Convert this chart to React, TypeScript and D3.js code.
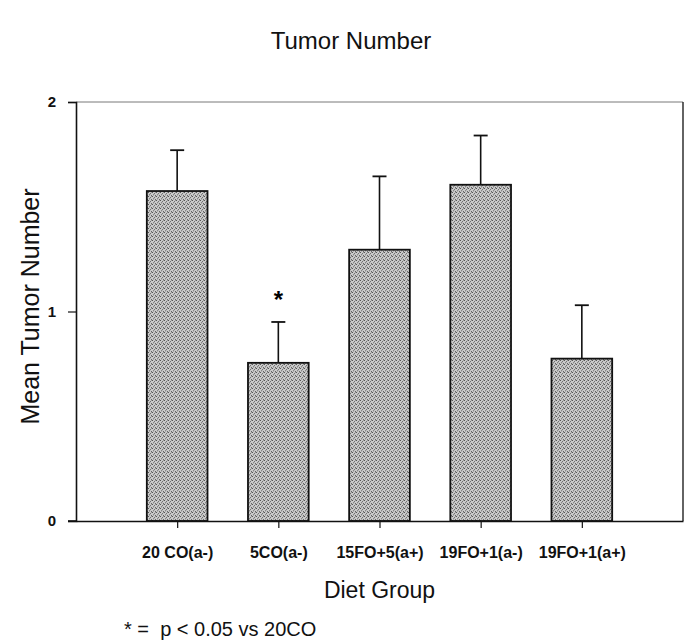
import { useEffect, useRef } from "react";
import * as d3 from "d3";

const groups = ["20 CO(a-)", "5CO(a-)", "15FO+5(a+)", "19FO+1(a-)", "19FO+1(a+)"];
const means = [1.575, 0.755, 1.295, 1.605, 0.775];
const errTops = [1.77, 0.95, 1.645, 1.84, 1.03];
const significant = [false, true, false, false, false];
const yTicks = [0, 1, 2];

export default function App() {
  const ref = useRef<SVGSVGElement>(null);

  useEffect(() => {
    if (!ref.current) return;
    const svg = d3.select(ref.current);
    svg.selectAll("*").remove();

    const font = "'Liberation Sans', Arial, sans-serif";
    const left = 76, right = 683, top = 102, bottom = 521;

    const x = d3.scaleLinear().domain([0, groups.length + 1]).range([left, right]);
    const y = d3.scaleLinear().domain([0, 2]).range([bottom, top]);
    const barW = (x(1) - x(0)) * 0.6;

    // stipple texture for the bars
    const defs = svg.append("defs");
    const pat = defs.append("pattern")
      .attr("id", "stipple")
      .attr("width", 4).attr("height", 4)
      .attr("patternUnits", "userSpaceOnUse");
    pat.append("rect").attr("width", 4).attr("height", 4).attr("fill", "#cacaca");
    const dots = [[0, 0, "#555"], [2, 1, "#707070"], [1, 2, "#858585"], [3, 3, "#666"], [3, 0, "#9a9a9a"], [1, 3, "#aaa"], [2, 2, "#bbb"]];
    dots.forEach(([dx, dy, c]) => {
      pat.append("rect").attr("x", dx).attr("y", dy).attr("width", 1).attr("height", 1).attr("fill", c as string);
    });

    // frame
    svg.append("line").attr("x1", left).attr("x2", right).attr("y1", top).attr("y2", top)
      .attr("stroke", "#555").attr("stroke-width", 0.8);
    svg.append("line").attr("x1", right).attr("x2", right).attr("y1", top).attr("y2", bottom)
      .attr("stroke", "#222").attr("stroke-width", 1.4);

    // error bars
    const g = svg.append("g");
    groups.forEach((name, i) => {
      const cx = x(i + 1);
      g.append("line").attr("x1", cx).attr("x2", cx)
        .attr("y1", y(means[i])).attr("y2", y(errTops[i]))
        .attr("stroke", "#111").attr("stroke-width", 1.6);
      g.append("line").attr("x1", cx - 7).attr("x2", cx + 7)
        .attr("y1", y(errTops[i])).attr("y2", y(errTops[i]))
        .attr("stroke", "#111").attr("stroke-width", 1.8);
    });

    // bars
    g.selectAll("rect.bar")
      .data(means)
      .join("rect")
      .attr("class", "bar")
      .attr("x", (_, i) => x(i + 1) - barW / 2)
      .attr("y", (d) => y(d))
      .attr("width", barW)
      .attr("height", (d) => y(0) - y(d))
      .attr("fill", "url(#stipple)")
      .attr("stroke", "#111")
      .attr("stroke-width", 1.8);

    // significance marks
    g.selectAll("text.sig")
      .data(groups.map((_, i) => i).filter((i) => significant[i]))
      .join("text")
      .attr("class", "sig")
      .attr("x", (i) => x(i + 1))
      .attr("y", (i) => y(errTops[i]) - 14)
      .attr("text-anchor", "middle")
      .attr("font-family", font)
      .attr("font-weight", "bold")
      .attr("font-size", 24)
      .text("*");

    // y axis
    const yAxis = svg.append("g").attr("transform", `translate(${left},0)`)
      .call(d3.axisLeft(y).tickValues(yTicks).tickFormat(d3.format("d")).tickSize(8).tickPadding(12));
    yAxis.select(".domain").attr("stroke", "#111").attr("stroke-width", 1.6);
    yAxis.selectAll(".tick line").attr("stroke", "#111").attr("stroke-width", 1.2);
    yAxis.selectAll("text").attr("font-family", font).attr("font-weight", "bold")
      .attr("font-size", 15).attr("fill", "#111");

    // x axis
    const xAxis = svg.append("g").attr("transform", `translate(0,${bottom})`)
      .call(d3.axisBottom(x).tickValues(groups.map((_, i) => i + 1))
        .tickFormat((d) => groups[(d as number) - 1]).tickSize(7).tickSizeOuter(0).tickPadding(19));
    xAxis.select(".domain").attr("stroke", "#111").attr("stroke-width", 1.6);
    xAxis.selectAll(".tick line").attr("stroke", "#111").attr("stroke-width", 1.2);
    xAxis.selectAll("text").attr("font-family", font).attr("font-weight", "bold")
      .attr("font-size", 16).attr("fill", "#111");
    svg.append("line").attr("x1", left - 8).attr("x2", left).attr("y1", bottom).attr("y2", bottom)
      .attr("stroke", "#111").attr("stroke-width", 1.6);

    // titles
    svg.append("text").attr("x", 351).attr("y", 49).attr("text-anchor", "middle")
      .attr("font-family", font).attr("font-size", 24).attr("fill", "#111").text("Tumor Number");
    svg.append("text").attr("transform", `translate(39,${(top + bottom) / 2 - 5}) rotate(-90)`)
      .attr("text-anchor", "middle").attr("font-family", font).attr("font-size", 25)
      .attr("fill", "#111").text("Mean Tumor Number");
    svg.append("text").attr("x", (x(1) + x(groups.length)) / 2).attr("y", 598).attr("text-anchor", "middle")
      .attr("font-family", font).attr("font-size", 23).attr("fill", "#111").text("Diet Group");
    svg.append("text").attr("x", 124).attr("y", 636)
      .attr("font-family", font).attr("font-size", 20).attr("fill", "#111")
      .attr("xml:space", "preserve").text("* =  p < 0.05 vs 20CO");
  }, []);

  return (
    <svg ref={ref} width={691} height={641}
      style={{ position: "absolute", left: 0, top: 0, background: "#fff" }} />
  );
}
